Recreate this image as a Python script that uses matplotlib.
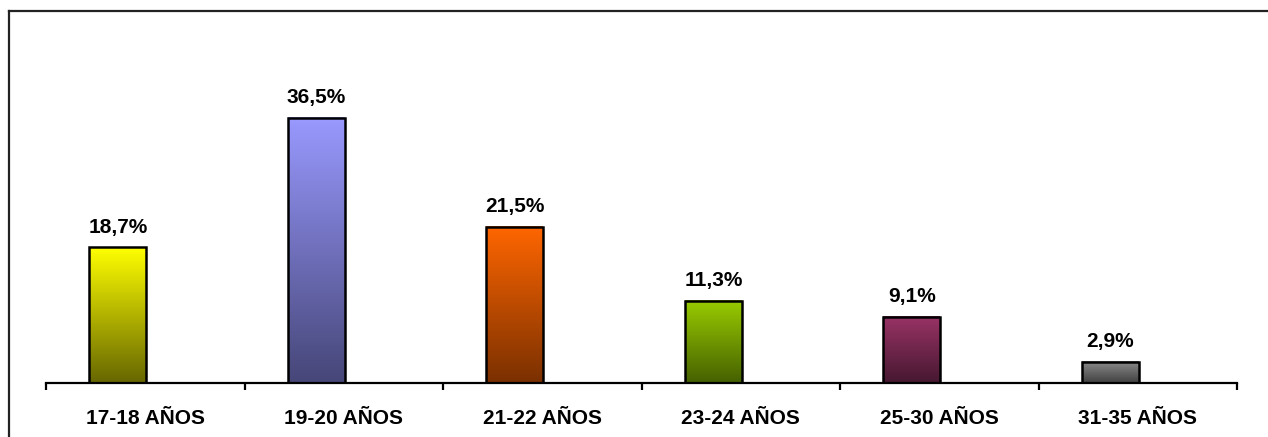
import numpy as np
import matplotlib
matplotlib.use("Agg")
import matplotlib.pyplot as plt
from matplotlib.colors import LinearSegmentedColormap
from matplotlib.lines import Line2D

categories = ["17-18 AÑOS", "19-20 AÑOS", "21-22 AÑOS", "23-24 AÑOS", "25-30 AÑOS", "31-35 AÑOS"]
values = [18.7, 36.5, 21.5, 11.3, 9.1, 2.9]
labels = ["18,7%", "36,5%", "21,5%", "11,3%", "9,1%", "2,9%"]
top_colors = ["#FFFF00", "#9999FF", "#FF6600", "#99CC00", "#993366", "#8C8C8C"]
bottom_colors = ["#666600", "#464678", "#7A3000", "#456000", "#461830", "#404040"]

plt.rcParams['font.family'] = ['Liberation Sans', 'DejaVu Sans']

W, H = 1268, 437
fig = plt.figure(figsize=(W / 100, H / 100), dpi=100)

ymax = 45
px_per_unit = (383 - 118) / 36.5
ax_left, ax_right = 46 / W, 1237 / W
ax_bottom = (H - 383) / H
ax_height = ymax * px_per_unit / H
ax = fig.add_axes([ax_left, ax_bottom, ax_right - ax_left, ax_height])

bw = 0.287
offset = -0.138
x = np.arange(len(categories))
grad = np.linspace(0, 1, 256).reshape(-1, 1)
for i, (v, ct, cb, lab) in enumerate(zip(values, top_colors, bottom_colors, labels)):
    xc = x[i] + offset
    cmap = LinearSegmentedColormap.from_list(f"g{i}", [cb, ct])
    ax.imshow(grad, extent=[xc - bw / 2, xc + bw / 2, 0, v], origin="lower",
              aspect="auto", cmap=cmap, zorder=2, interpolation="bilinear")
    ax.bar(xc, v, width=bw, facecolor="none", edgecolor="black", linewidth=1.8, zorder=3)
    ax.annotate(lab, (xc, v), xytext=(0, 10.5), textcoords="offset points",
                ha="center", va="baseline", fontsize=15, fontweight="bold")

ax.set_xlim(-0.5, len(categories) - 0.5)
ax.set_ylim(0, ymax)
for s in ["top", "right", "left"]:
    ax.spines[s].set_visible(False)
ax.spines["bottom"].set_linewidth(1.6)
ax.spines["bottom"].set_zorder(4)
ax.set_yticks([])
ax.set_xticks(x)
ax.set_xticklabels(categories, fontsize=15, fontweight="bold")
ax.tick_params(axis="x", which="major", length=0, pad=18.5)
ax.set_xticks(np.arange(-0.5, len(categories)), minor=True)
ax.tick_params(axis="x", which="minor", length=5, width=1.6, direction="out")
ax.set_facecolor("none")

# outer frame
fx0 = 9 / W
fy0 = 1 - 11 / H
fig.add_artist(Line2D([fx0, 1.0], [fy0, fy0], transform=fig.transFigure, color="#222222", linewidth=1.6))
fig.add_artist(Line2D([fx0, fx0], [0, fy0], transform=fig.transFigure, color="#222222", linewidth=1.6))

fig.savefig("out.png", dpi=100)
